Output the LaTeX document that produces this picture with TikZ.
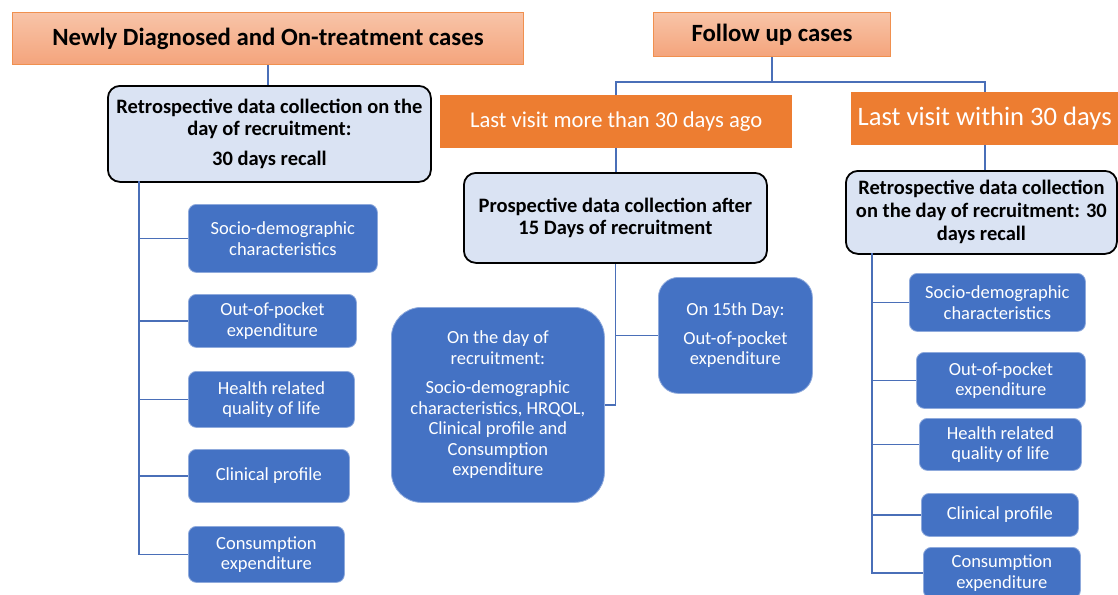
\documentclass[tikz,border=0pt]{standalone}
\usepackage{fontspec}
\setmainfont{Carlito}
\definecolor{blu}{HTML}{4472C4}
\definecolor{lblu}{HTML}{DAE3F3}
\definecolor{org}{HTML}{ED7D31}
\definecolor{hdrtop}{HTML}{F8C4A8}
\definecolor{hdrbot}{HTML}{F4A47C}
\definecolor{hdrline}{HTML}{F0904F}
\definecolor{conncol}{HTML}{4A6FB8}
\tikzset{
 hdr/.style={draw=hdrline, line width=1pt, top color=hdrtop, bottom color=hdrbot, inner sep=0pt, anchor=north west, font=\bfseries\fontsize{24.8}{28}\selectfont},
 obox/.style={fill=org, text=white, inner sep=0pt, anchor=north west},
 lbox/.style={draw=black, line width=1.8pt, fill=lblu, rounded corners=12pt, align=center, inner sep=0pt, anchor=north west, font=\bfseries\fontsize{20.5}{22}\selectfont},
 bbox/.style={fill=blu, draw=blu!60!white, line width=0.8pt, text=white, rounded corners=8pt, align=center, inner sep=0pt, anchor=north west, font=\fontsize{18.5}{20.5}\selectfont},
 conn/.style={draw=conncol, line width=1.8pt}
}
\begin{document}
\begin{tikzpicture}[x=1pt,y=-1pt]
\useasboundingbox (0,0) rectangle (1118,594);
% headers
\node[hdr, minimum width=511pt, minimum height=52pt] (h1) at (12,12) {Newly Diagnosed and On-treatment cases};
\node[hdr, minimum width=237pt, minimum height=44pt, font=\bfseries\fontsize{24.8}{28}\selectfont] (h2) at (653,12) {Follow up cases};
% orange boxes
\node[obox, minimum width=352pt, minimum height=53pt, font=\fontsize{22.6}{26}\selectfont] (o1) at (440,95) {Last visit more than 30 days ago};
\node[obox, minimum width=267pt, minimum height=53pt, font=\fontsize{26.6}{30}\selectfont] (o2) at (851,92) {Last visit within 30 days};
% light boxes
\node[lbox, minimum width=323pt, minimum height=96pt] (r1) at (107,85) {Retrospective data collection on the\\day of recruitment:\\[8pt]30 days recall};
\node[lbox, minimum width=303pt, minimum height=90pt] (p) at (463,172) {Prospective data collection after\\15 Days of recruitment};
\node[lbox, minimum width=271pt, minimum height=83pt, font=\bfseries\fontsize{20.5}{23}\selectfont] (r2) at (845,170) {Retrospective data collection\\on the day of recruitment: 30\\days recall};
% left blue boxes
\node[bbox, minimum width=189pt, minimum height=68pt] (l1) at (188,204) {Socio-demographic\\characteristics};
\node[bbox, minimum width=168pt, minimum height=53pt] (l2) at (188,294) {Out-of-pocket\\expenditure};
\node[bbox, minimum width=166pt, minimum height=56pt] (l3) at (188,371) {Health related\\quality of life};
\node[bbox, minimum width=161pt, minimum height=53pt] (l4) at (188,449) {Clinical profile};
\node[bbox, minimum width=156pt, minimum height=56pt] (l5) at (188,526) {Consumption\\expenditure};
% middle blue boxes
\node[bbox, minimum width=213pt, minimum height=195pt, rounded corners=30pt] (m1) at (391,307) {On the day of\\recruitment:\\[9pt]Socio-demographic\\characteristics, HRQOL,\\Clinical profile and\\Consumption\\expenditure};
\node[bbox, minimum width=154pt, minimum height=116pt, rounded corners=20pt] (m2) at (658,277) {On 15th Day:\\[8pt]Out-of-pocket\\expenditure};
% right blue boxes
\node[bbox, minimum width=176pt, minimum height=58pt] (q1) at (909,273) {Socio-demographic\\characteristics};
\node[bbox, minimum width=169pt, minimum height=56pt] (q2) at (916,352) {Out-of-pocket\\expenditure};
\node[bbox, minimum width=162pt, minimum height=52pt] (q3) at (919,418) {Health related\\quality of life};
\node[bbox, minimum width=157pt, minimum height=43pt] (q4) at (921,493) {Clinical profile};
\node[bbox, minimum width=157pt, minimum height=51pt] (q5) at (923,547) {Consumption\\expenditure};
% connectors
\draw[conn] (h1.south) -- (h1.south |- r1.north);
\coordinate (lt) at (139,181);
\draw[conn] (lt) |- (l5.west);
\foreach \n in {l1,l2,l3,l4} \draw[conn] (lt |- \n.west) -- (\n.west);
\coordinate (fj) at (771,82);
\draw[conn] (h2.south) -- (h2.south |- fj);
\draw[conn] (o1.north) |- (h2.south |- fj) -| (o2.north);
\draw[conn] (o1.south) -- (o1.south |- p.north);
\draw[conn] (o2.south) -- (o2.south |- r2.north);
\draw[conn] (p.south) |- (m1.east);
\draw[conn] (p.south |- m2.west) -- (m2.west);
\coordinate (rt) at (872,253);
\draw[conn] (rt) |- (q5.west);
\foreach \n in {q1,q2,q3,q4} \draw[conn] (rt |- \n.west) -- (\n.west);
\end{tikzpicture}
\end{document}
